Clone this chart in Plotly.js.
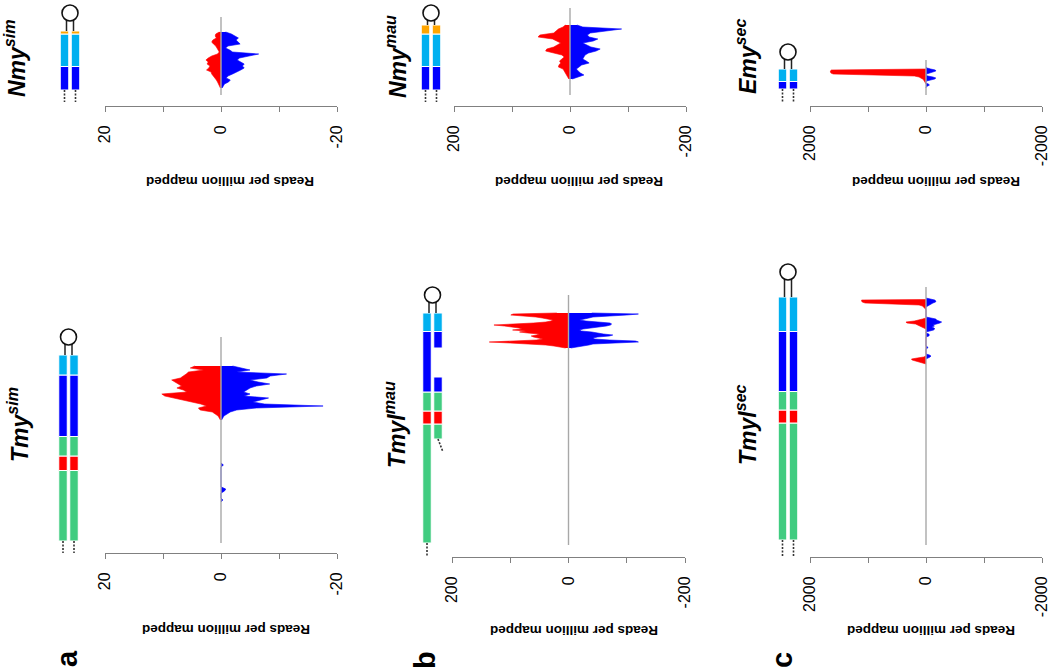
<!DOCTYPE html>
<html><head><meta charset="utf-8">
<script src="https://cdn.plot.ly/plotly-3.0.1.min.js"></script>
<style>html,body{margin:0;padding:0;background:#fff}#chart{width:1050px;height:670px}</style>
</head><body><div id="chart"></div>
<script>
// ================= DATA =================
// positions are nucleotide-like coordinates along each locus (hairpin end on top)
// sense reads (red, plotted positive) and antisense reads (blue, plotted negative), reads per million mapped

// ---- a, top: Nmy sim ----
const nmySimPos   = [74,72,70,68,66,64,62,60,58,56,54,52,50,48,46,44,42,40,38,36,34,32,30,28,26,24,22,20,18];
const nmySimSense = [0.3,0.9,1.0,0.8,1.4,1.6,1.3,0.9,0.7,0.5,0.3,0.6,1.6,2.2,2.6,2.2,2.4,1.9,2.1,2.5,1.7,1.6,1.3,1.1,0.8,0.6,0.4,0.2,0.1];
const nmySimAnti  = [-0.8,-1.8,-2.4,-3.0,-2.6,-2.9,-3.3,-1.2,-0.8,-1.5,-2.0,-6.5,-4.5,-3.2,-2.8,-3.5,-4.0,-3.7,-4.0,-3.4,-2.8,-2.0,-1.2,-0.9,-1.6,-1.3,-0.6,-0.4,-0.2];
const nmySimRange = [11, 89];
const nmySimSegStart = [16, 39.5, 72];
const nmySimSegEnd   = [39.5, 72, 75];
const nmySimSegType  = ['dark', 'light', 'orange'];
const nmySimLoop = [75, 93];   // stem base, loop centre
const nmySimTail = [16, 4];

// ---- a, bottom: Tmy sim ----
const tmySimPos   = [190,188,186,184,182,180,178,176,174,172,170,168,166,164,162,160,158,156,154,152,150,148,146,144,142,140,138,136];
const tmySimSense = [4.5,5.3,3.0,5.6,6.0,6.5,7.0,8.5,7.9,7.4,6.8,7.6,6.5,5.9,10.2,9.7,8.0,6.5,4.8,3.5,2.5,3.9,3.6,1.5,1.0,0.5,0.3,0.1];
const tmySimAnti  = [-2.0,-3.3,-5.0,-2.7,-11.3,-8.5,-7.9,-5.0,-6.4,-8.4,-6.1,-5.0,-4.4,-3.9,-5.0,-4.0,-8.2,-6.7,-5.5,-7.5,-17.6,-6.1,-2.7,-1.6,-1.0,-0.5,-0.3,-0.1];
const tmySimBlipPos  = [93,91,89,69,67,65,63,58,56,54];
const tmySimBlipAnti = [0,-0.4,0,0,-0.8,-0.6,0,0,-0.3,0];
const tmySimRange = [13, 219];
const tmySimSegStart = [15, 85.5, 100, 119.5, 181];
const tmySimSegEnd   = [85.5, 100, 119.5, 181, 201];
const tmySimSegType  = ['green', 'red', 'green', 'dark', 'light'];
const tmySimLoop = [201, 219];
const tmySimTail = [15, 1];

// ---- b, top: Nmy mau ----
const nmyMauPos   = [81,79,77,75,73,71,69,67,65,63,61,59,57,55,53,51,49,47,45,43,41,39,37,35,33,31,29,27];
const nmyMauSense = [8,12,20,24,28,52,55,30,22,16,22,28,40,42,28,14,10,15,18,16,19,20,12,10,8,6,4,2];
const nmyMauAnti  = [-12,-22,-89,-60,-35,-30,-33,-48,-40,-22,-28,-36,-52,-45,-32,-26,-24,-22,-28,-33,-20,-16,-11,-14,-18,-24,-12,-4];
const nmyMauRange = [11, 98];
const nmyMauSegStart = [16, 39.5, 72];
const nmyMauSegEnd   = [39.5, 72, 81];
const nmyMauSegType  = ['dark', 'light', 'orange'];
const nmyMauLoop = [81, 93];
const nmyMauTail = [16, 4];

// ---- b, bottom: Tmyl mau ----
const tmylMauPos   = [243,242,241,240,239,238,237,236,235,234,233,232,231,230,229,228,227,226,225,224,223,222,221,220,219,218,217,216,215,214,213,212,211,210,209,208];
const tmylMauSense = [20,95,99,70,56,45,35,27,30,39,60,110,128,110,96,85,80,96,73,84,70,50,55,64,60,50,44,55,110,136,100,60,39,25,16,5];
const tmylMauAnti  = [-40,-120,-100,-55,-42,-35,-25,-19,-30,-60,-71,-74,-72,-65,-48,-40,-25,-19,-22,-40,-48,-60,-76,-70,-50,-42,-45,-70,-115,-120,-80,-42,-35,-25,-13,-4];
const tmylMauRange = [11, 261];
const tmylMauSegStart  = [13, 132, 145, 164, 224.5];
const tmylMauSegEnd    = [132, 145, 164, 224.5, 243];
const tmylMauSegType   = ['green', 'red', 'green', 'dark', 'light'];
const tmylMauSeg2Start = [117, 132, 145, 164, 208, 224.5];
const tmylMauSeg2End   = [132, 145, 164, 179, 224.5, 243];
const tmylMauSeg2Type  = ['green', 'red', 'green', 'dark', 'dark', 'light'];
const tmylMauLoop = [243, 261];
const tmylMauTail = [13, 0];
const tmylMauTail2 = [117, 104];

// ---- c, top: Emy sec ----
const emySecSensePos = [37,36,35,34,33,32,31,30,29,28,27,26,25,24,23,22];
const emySecSense    = [0,1630,1650,1650,1640,1600,900,200,120,80,60,40,30,20,10,0];
const emySecAntiPos  = [39,38,37,36,35,34,33,32,31,30,29,28,27,26,25,24,23,22,21,20,19,18];
const emySecAnti     = [0,-20,-80,-160,-170,-120,-40,-10,0,-30,-120,-170,-150,-60,-10,0,0,-40,-60,-30,0,0];
const emySecRange = [11, 46];
const emySecSegStart = [17, 24.5];
const emySecSegEnd   = [24.5, 37];
const emySecSegType  = ['dark', 'light'];
const emySecLoop = [37, 54];
const emySecTail = [17, 4];

// ---- c, bottom: Tmyl sec ----
const tmylSecSensePos = [256.5,256,255,254,253,252,251,250,249,248,247,246, 238,237,236,235,234,233,232,231,230,229,228,227, 200,199,198,197,196,195,194,193,192];
const tmylSecSense    = [0,1110,1110,1100,1050,600,120,60,40,25,10,0, 0,60,120,200,345,330,180,140,110,80,40,0, 0,40,150,250,240,180,100,40,0];
const tmylSecAntiPos  = [258,257,256,255,254,253,252,251,250,249, 239,238,237,236,235,234,233,232,231,230,229,228,227,226,225,224,223,222,221,220,219, 210,209,208,207, 202,201,200,199,198,197];
const tmylSecAnti     = [0,-120,-150,-170,-165,-120,-86,-60,-20,0, 0,-80,-170,-180,-230,-270,-240,-150,-120,-145,-100,-140,-150,-130,-60,0,0,-50,-57,-50,0, 0,-30,-30,0, 0,-60,-86,-70,-30,0];
const tmylSecRange = [11, 269];
const tmylSecSegStart = [16, 133, 146, 164.5, 224.5];
const tmylSecSegEnd   = [133, 146, 164.5, 224.5, 259];
const tmylSecSegType  = ['green', 'red', 'green', 'dark', 'light'];
const tmylSecLoop = [259, 284];
const tmylSecTail = [16, 0];

// titles and tick labels
const panelTitles = ['Nmy<sup>sim</sup>', 'Tmy<sup>sim</sup>', 'Nmy<sup>mau</sup>', 'Tmyl<sup>mau</sup>', 'Emy<sup>sec</sup>', 'Tmyl<sup>sec</sup>'];
const panelLetters = ['a', 'b', 'c'];
const axisTitle = 'Reads per million mapped';
const tickVals20 = [20, 10, 0, -10, -20],          tickText20 = ['20', '', '0', '', '-20'];
const tickVals200 = [200, 100, 0, -100, -200],     tickText200 = ['200', '', '0', '', '-200'];
const tickVals2000 = [2000, 1000, 0, -1000, -2000], tickText2000 = ['2000', '', '0', '', '-2000'];

// ================= STYLE / LAYOUT =================
const W = 1050, H = 670;
const FONT = '"Liberation Sans", Arial, Helvetica, sans-serif';
const PX = v => v / W, PY = v => 1 - v / H;
const RED = '#ff0000', BLUE = '#0000ff', AXIS = '#808080';
const segColor = {orange: '#ffa500', light: '#00b0f0', dark: '#0000ff', green: '#40cc80', red: '#ff0000'};
const COLX = [10, 21];

const panels = [
  {senseX: nmySimSense, senseY: nmySimPos, antiX: nmySimAnti, antiY: nmySimPos, range: nmySimRange,
   segs: [[nmySimSegStart, nmySimSegEnd, nmySimSegType], [nmySimSegStart, nmySimSegEnd, nmySimSegType]],
   loop: nmySimLoop, tails: [[COLX[0], nmySimTail[0], COLX[0], nmySimTail[1]], [COLX[1], nmySimTail[0], COLX[1], nmySimTail[1]]],
   tv: tickVals20, tt: tickText20, xdom: [105, 337], ydom: [0, 106], yr: [0, 106], gx0: 54.5,
   titleXY: [15, 58], axTitleXY: [230, 182]},
  {senseX: tmySimSense, senseY: tmySimPos, antiX: tmySimAnti, antiY: tmySimPos, range: tmySimRange,
   blipX: tmySimBlipAnti, blipY: tmySimBlipPos,
   segs: [[tmySimSegStart, tmySimSegEnd, tmySimSegType], [tmySimSegStart, tmySimSegEnd, tmySimSegType]],
   loop: tmySimLoop, tails: [[COLX[0], tmySimTail[0], COLX[0], tmySimTail[1]], [COLX[1], tmySimTail[0], COLX[1], tmySimTail[1]]],
   tv: tickVals20, tt: tickText20, xdom: [105, 337], ydom: [240, 553], yr: [3, 316], gx0: 53,
   titleXY: [18, 425], axTitleXY: [226, 630]},
  {senseX: nmyMauSense, senseY: nmyMauPos, antiX: nmyMauAnti, antiY: nmyMauPos, range: nmyMauRange,
   segs: [[nmyMauSegStart, nmyMauSegEnd, nmyMauSegType], [nmyMauSegStart, nmyMauSegEnd, nmyMauSegType]],
   loop: nmyMauLoop, tails: [[COLX[0], nmyMauTail[0], COLX[0], nmyMauTail[1]], [COLX[1], nmyMauTail[0], COLX[1], nmyMauTail[1]]],
   tv: tickVals200, tt: tickText200, xdom: [454, 686], ydom: [0, 106], yr: [0, 106], gx0: 415.5,
   titleXY: [396, 57], axTitleXY: [579, 182]},
  {senseX: tmylMauSense, senseY: tmylMauPos, antiX: tmylMauAnti, antiY: tmylMauPos, range: tmylMauRange,
   segs: [[tmylMauSegStart, tmylMauSegEnd, tmylMauSegType], [tmylMauSeg2Start, tmylMauSeg2End, tmylMauSeg2Type]],
   loop: tmylMauLoop, tails: [[COLX[0], tmylMauTail[0], COLX[0], tmylMauTail[1]], [COLX[1], tmylMauTail2[0], COLX[1] + 5, tmylMauTail2[1]]],
   tv: tickVals200, tt: tickText200, xdom: [452, 685], ydom: [240, 557], yr: [-1, 316], gx0: 417,
   titleXY: [395, 425], axTitleXY: [574, 631]},
  {senseX: emySecSense, senseY: emySecSensePos, antiX: emySecAnti, antiY: emySecAntiPos, range: emySecRange,
   segs: [[emySecSegStart, emySecSegEnd, emySecSegType], [emySecSegStart, emySecSegEnd, emySecSegType]],
   loop: emySecLoop, tails: [[COLX[0], emySecTail[0], COLX[0], emySecTail[1]], [COLX[1], emySecTail[0], COLX[1], emySecTail[1]]],
   tv: tickVals2000, tt: tickText2000, xdom: [810, 1042], ydom: [0, 106], yr: [0, 106], gx0: 772.5,
   titleXY: [746, 57], axTitleXY: [936, 182]},
  {senseX: tmylSecSense, senseY: tmylSecSensePos, antiX: tmylSecAnti, antiY: tmylSecAntiPos, range: tmylSecRange,
   segs: [[tmylSecSegStart, tmylSecSegEnd, tmylSecSegType], [tmylSecSegStart, tmylSecSegEnd, tmylSecSegType]],
   loop: tmylSecLoop, tails: [[COLX[0], tmylSecTail[0], COLX[0], tmylSecTail[1]], [COLX[1], tmylSecTail[0], COLX[1], tmylSecTail[1]]],
   tv: tickVals2000, tt: tickText2000, xdom: [810, 1042], ydom: [240, 557], yr: [-1, 316], gx0: 772.5,
   titleXY: [746, 425], axTitleXY: [931, 631]}
];
const letterXY = [[67, 659], [425, 660], [782, 660]];

const traces = [];
const layout = {
  width: W, height: H, margin: {l: 0, r: 0, t: 0, b: 0},
  paper_bgcolor: '#fff', plot_bgcolor: 'rgba(0,0,0,0)',
  showlegend: false, hovermode: false, barmode: 'overlay',
  font: {family: FONT, color: '#000'},
  annotations: []
};

panels.forEach((p, i) => {
  const n = i + 1, xs = n === 1 ? '' : String(n), ys = xs;
  const gxn = String(n + 6);
  const xa = 'x' + xs, ya = 'y' + ys, gxa = 'x' + gxn;

  // data x axis (reads)
  layout['xaxis' + xs] = {
    domain: [PX(p.xdom[0]), PX(p.xdom[1])], anchor: ya,
    range: [p.tv[0], p.tv[4]], autorange: false,
    tickmode: 'array', tickvals: p.tv, ticktext: p.tt, tickangle: -90,
    ticks: 'outside', ticklen: 5, tickwidth: 1, tickcolor: AXIS,
    showline: true, linecolor: AXIS, linewidth: 1,
    showgrid: false, zeroline: false, fixedrange: true,
    ticklabelstandoff: 7, ticklabeloverflow: 'allow',
    tickfont: {family: FONT, size: 16, color: '#000'}
  };
  // gene model x axis
  layout['xaxis' + gxn] = {
    domain: [PX(p.gx0), PX(p.gx0 + 30)], anchor: ya, range: [0, 30], autorange: false,
    visible: false, fixedrange: true
  };
  // position y axis
  layout['yaxis' + ys] = {
    domain: [PY(p.ydom[1]), PY(p.ydom[0])], anchor: xa, range: p.yr, autorange: false,
    visible: false, fixedrange: true
  };

  // read profiles
  traces.push({type: 'scatter', mode: 'lines', x: p.senseX, y: p.senseY, xaxis: xa, yaxis: ya,
    fill: 'tozerox', fillcolor: RED, line: {color: RED, width: 0.6}});
  traces.push({type: 'scatter', mode: 'lines', x: p.antiX, y: p.antiY, xaxis: xa, yaxis: ya,
    fill: 'tozerox', fillcolor: BLUE, line: {color: BLUE, width: 0.6}});
  if (p.blipX) {
    traces.push({type: 'scatter', mode: 'lines', x: p.blipX, y: p.blipY, xaxis: xa, yaxis: ya,
      fill: 'tozerox', fillcolor: BLUE, line: {color: BLUE, width: 0.8}});
  }
  // zero line over plotted region
  traces.push({type: 'scatter', mode: 'lines', x: [0, 0], y: p.range, xaxis: xa, yaxis: ya,
    line: {color: '#a8a8a8', width: 1.4}});

  // gene model blocks
  const bx = [], bbase = [], blen = [], bcol = [];
  p.segs.forEach((s, c) => {
    s[0].forEach((st, k) => {
      bx.push(COLX[c]); bbase.push(st); blen.push(s[1][k] - st); bcol.push(segColor[s[2][k]]);
    });
  });
  traces.push({type: 'bar', x: bx, base: bbase, y: blen, width: 8.5, xaxis: gxa, yaxis: ya,
    marker: {color: bcol, line: {color: '#fff', width: 1}}});
  // hairpin stems and loop
  const stemTop = p.loop[1] - 7;
  traces.push({type: 'scatter', mode: 'lines', xaxis: gxa, yaxis: ya,
    x: [12, 12, null, 19, 19], y: [p.loop[0], stemTop, null, p.loop[0], stemTop],
    line: {color: '#222', width: 1.5}});
  traces.push({type: 'scatter', mode: 'markers', xaxis: gxa, yaxis: ya, x: [15.5], y: [p.loop[1]],
    cliponaxis: false,
    marker: {symbol: 'circle-open', size: 16, color: '#111', line: {width: 1.6}}});
  // flanking (truncated) sequence
  p.tails.forEach(t => {
    traces.push({type: 'scatter', mode: 'lines', xaxis: gxa, yaxis: ya,
      x: [t[0], t[2]], y: [t[1], t[3]], line: {color: '#333', width: 1.6, dash: '2px,1.5px'}});
  });

  // texts
  layout.annotations.push({text: '<b>' + axisTitle + '</b>', xref: 'paper', yref: 'paper',
    x: PX(p.axTitleXY[0]), y: PY(p.axTitleXY[1]), xanchor: 'center', yanchor: 'middle',
    showarrow: false, textangle: 180, font: {family: FONT, size: 13.5, color: '#000'}});
  layout.annotations.push({text: '<b><i>' + panelTitles[i] + '</i></b>', xref: 'paper', yref: 'paper',
    x: PX(p.titleXY[0]), y: PY(p.titleXY[1]), xanchor: 'center', yanchor: 'middle',
    showarrow: false, textangle: -90, font: {family: FONT, size: 23, color: '#000'}});
});

panelLetters.forEach((l, k) => {
  layout.annotations.push({text: '<b>' + l + '</b>', xref: 'paper', yref: 'paper',
    x: PX(letterXY[k][0]), y: PY(letterXY[k][1]), xanchor: 'center', yanchor: 'middle',
    showarrow: false, textangle: -90, font: {family: FONT, size: 29, color: '#000'}});
});

Plotly.newPlot('chart', traces, layout, {displayModeBar: false, staticPlot: true});
</script>
</body></html>
